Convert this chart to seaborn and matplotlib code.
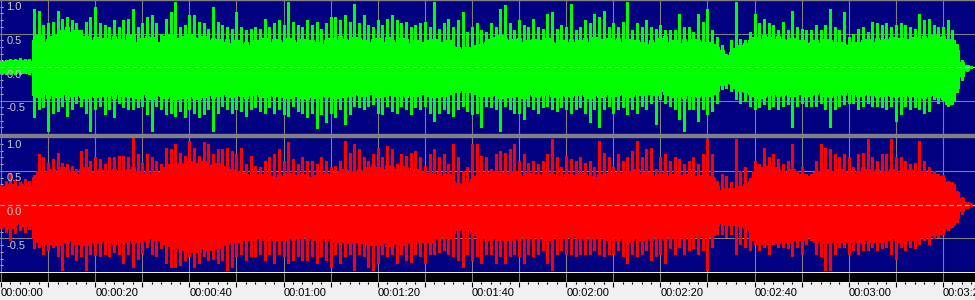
import matplotlib
matplotlib.use("Agg")
import matplotlib.pyplot as plt
import matplotlib.transforms as mtrans
from matplotlib.patches import Rectangle
import seaborn as sns

# ---------------- data ----------------
# per-second peak amplitude, left (green) channel
G_hi = [0.09, 0.11, 0.12, 0.12, 0.13, 0.12, 0.12, 0.87, 0.84, 0.62,
        0.65, 0.67, 0.83, 0.72, 0.75, 0.70, 0.65, 0.55, 0.67, 0.75,
        0.90, 0.65, 0.62, 0.60, 0.70, 0.60, 0.70, 0.72, 0.87, 0.60,
        0.65, 0.75, 0.77, 0.65, 0.50, 0.72, 0.82, 0.97, 0.60, 0.62,
        0.77, 0.77, 0.67, 0.65, 0.57, 0.89, 0.67, 0.62, 0.60, 0.57,
        0.82, 0.60, 0.55, 0.57, 0.60, 0.57, 0.72, 0.60, 0.65, 0.70,
        0.62, 0.97, 0.67, 0.62, 0.60, 0.70, 0.62, 0.67, 0.57, 0.65,
        0.75, 0.75, 0.70, 0.77, 0.67, 0.94, 0.65, 0.77, 0.62, 0.60,
        0.70, 0.62, 0.72, 0.77, 0.70, 0.65, 0.67, 0.60, 0.62, 0.65,
        0.67, 0.60, 0.97, 0.57, 0.65, 0.72, 0.60, 0.70, 0.82, 0.52,
        0.60, 0.65, 0.55, 0.52, 0.65, 0.60, 0.87, 0.92, 0.65, 0.55,
        0.70, 0.62, 0.60, 0.72, 0.60, 0.57, 0.79, 0.82, 0.57, 0.62,
        0.60, 0.94, 0.55, 0.60, 0.70, 0.65, 0.79, 0.75, 0.84, 0.60,
        0.65, 0.60, 0.67, 0.97, 0.55, 0.65, 0.60, 0.70, 0.60, 0.57,
        0.62, 0.55, 0.55, 0.55, 0.79, 0.60, 0.60, 0.52, 0.79, 0.67,
        0.87, 0.55, 0.45, 0.33, 0.20, 0.40, 0.97, 0.42, 0.40, 0.52,
        0.79, 0.65, 0.72, 0.65, 0.62, 0.55, 0.67, 0.55, 0.84, 0.60,
        0.57, 0.55, 0.55, 0.62, 0.55, 0.62, 0.87, 0.60, 0.55, 0.82,
        0.45, 0.50, 0.57, 0.60, 0.52, 0.67, 0.65, 0.62, 0.65, 0.60,
        0.62, 0.65, 0.62, 0.60, 0.57, 0.79, 0.70, 0.72, 0.62, 0.60,
        0.60, 0.70, 0.55, 0.35, 0.11, 0.03, 0.02]
G_lo = [-0.09, -0.10, -0.11, -0.10, -0.10, -0.09, -0.10, -0.75, -0.63, -0.60,
        -0.95, -0.68, -0.65, -0.58, -0.73, -0.63, -0.53, -0.58, -0.68, -0.96,
        -0.63, -0.58, -0.70, -0.63, -0.75, -0.53, -0.60, -0.63, -0.63, -0.60,
        -0.58, -0.70, -0.96, -0.58, -0.63, -0.70, -0.68, -0.73, -0.65, -0.75,
        -0.63, -0.68, -0.75, -0.70, -0.63, -0.95, -0.68, -0.58, -0.63, -0.68,
        -0.63, -0.65, -0.73, -0.63, -0.60, -0.65, -0.68, -0.60, -0.68, -0.63,
        -0.70, -0.73, -0.58, -0.65, -0.68, -0.75, -0.68, -0.91, -0.70, -0.82,
        -0.68, -0.75, -0.63, -0.85, -0.70, -0.58, -0.60, -0.63, -0.58, -0.55,
        -0.68, -0.70, -0.58, -0.65, -0.68, -0.58, -0.63, -0.70, -0.60, -0.63,
        -0.58, -0.68, -0.80, -0.68, -0.63, -0.68, -0.73, -0.63, -0.58, -0.65,
        -0.70, -0.68, -0.90, -0.58, -0.60, -0.63, -0.95, -0.58, -0.63, -0.68,
        -0.68, -0.77, -0.58, -0.63, -0.68, -0.60, -0.58, -0.63, -0.65, -0.60,
        -0.63, -0.68, -0.63, -0.60, -0.68, -0.82, -0.63, -0.90, -0.63, -0.58,
        -0.68, -0.63, -0.60, -0.70, -0.63, -0.68, -0.58, -0.63, -0.53, -0.85,
        -0.48, -0.53, -0.58, -0.63, -0.77, -0.95, -0.63, -0.63, -0.80, -0.63,
        -0.70, -0.65, -0.53, -0.33, -0.31, -0.36, -0.48, -0.53, -0.51, -0.58,
        -0.63, -0.60, -0.55, -0.63, -0.58, -0.63, -0.58, -0.55, -0.90, -0.58,
        -0.53, -0.58, -0.58, -0.58, -0.53, -0.63, -0.90, -0.63, -0.58, -0.55,
        -0.53, -0.53, -0.63, -0.58, -0.53, -0.58, -0.58, -0.60, -0.63, -0.58,
        -0.80, -0.70, -0.58, -0.63, -0.60, -0.63, -0.68, -0.65, -0.48, -0.53,
        -0.51, -0.58, -0.55, -0.38, -0.19, -0.06, -0.02]

# per-second peak amplitude, right (red) channel
R_hi = [0.28, 0.35, 0.46, 0.36, 0.33, 0.38, 0.35, 0.43, 0.75, 0.70,
        0.62, 0.67, 0.77, 0.62, 0.60, 0.57, 0.52, 0.79, 0.82, 0.65,
        0.70, 0.67, 0.60, 0.70, 0.70, 0.72, 0.72, 0.70, 0.98, 0.75,
        0.62, 0.75, 0.70, 0.65, 0.60, 0.84, 0.82, 0.89, 0.77, 0.72,
        0.94, 0.84, 0.72, 0.92, 0.89, 0.75, 0.82, 0.82, 0.84, 0.79,
        0.75, 0.84, 0.60, 0.72, 0.57, 0.55, 0.65, 0.70, 0.75, 0.82,
        0.65, 0.92, 0.67, 0.60, 0.70, 0.65, 0.65, 0.60, 0.70, 0.65,
        0.55, 0.57, 0.65, 0.94, 0.77, 0.89, 0.82, 0.70, 0.65, 0.75,
        0.84, 0.70, 0.87, 0.82, 0.60, 0.75, 0.72, 0.77, 0.79, 0.70,
        0.57, 0.75, 0.82, 0.70, 0.75, 0.60, 0.89, 0.70, 0.50, 0.55,
        0.89, 0.89, 0.72, 0.70, 0.52, 0.75, 0.79, 0.77, 0.82, 0.89,
        0.65, 0.75, 0.62, 0.65, 0.60, 0.65, 0.75, 0.97, 0.70, 0.55,
        0.72, 0.67, 0.65, 0.70, 0.62, 0.65, 0.55, 0.94, 0.77, 0.70,
        0.55, 0.75, 0.65, 0.70, 0.79, 0.94, 0.70, 0.82, 0.84, 0.52,
        0.70, 0.75, 0.65, 0.70, 0.67, 0.60, 0.65, 0.70, 0.60, 0.75,
        0.97, 0.75, 0.35, 0.45, 0.42, 0.33, 0.97, 0.50, 0.55, 0.40,
        0.65, 0.60, 0.84, 0.70, 0.75, 0.67, 0.60, 0.65, 0.89, 0.50,
        0.55, 0.45, 0.45, 0.65, 0.89, 0.84, 0.82, 0.75, 0.70, 0.75,
        0.70, 0.55, 0.75, 0.77, 0.97, 0.70, 0.65, 0.75, 0.75, 0.97,
        0.70, 0.70, 0.65, 0.60, 0.62, 0.94, 0.65, 0.55, 0.50, 0.45,
        0.43, 0.35, 0.33, 0.20, 0.11, 0.04, 0.02]
R_lo = [-0.35, -0.40, -0.53, -0.42, -0.38, -0.40, -0.36, -0.65, -0.63, -0.73,
        -0.68, -0.63, -0.77, -0.97, -0.77, -0.73, -0.82, -0.77, -0.97, -0.73,
        -0.75, -0.77, -0.73, -0.77, -0.70, -0.73, -0.87, -0.73, -0.92, -0.80,
        -0.73, -0.63, -0.73, -0.77, -0.65, -0.87, -0.92, -0.92, -0.90, -0.82,
        -0.77, -0.92, -0.87, -0.77, -0.82, -0.80, -0.87, -0.82, -0.97, -0.92,
        -0.77, -0.73, -0.82, -0.77, -0.77, -0.73, -0.82, -0.73, -0.87, -0.73,
        -0.77, -0.87, -0.82, -0.77, -0.82, -0.82, -0.77, -0.87, -0.77, -0.82,
        -0.92, -0.73, -0.87, -0.77, -0.73, -0.97, -0.73, -0.77, -0.92, -0.97,
        -0.87, -0.73, -0.77, -0.73, -0.87, -0.73, -0.82, -0.85, -0.73, -0.77,
        -0.87, -0.73, -0.73, -0.70, -0.68, -0.73, -0.77, -0.82, -0.92, -0.73,
        -0.82, -0.77, -0.87, -0.73, -0.73, -0.87, -0.77, -0.87, -0.77, -0.73,
        -0.77, -0.87, -0.73, -0.77, -0.73, -0.68, -0.87, -0.97, -0.73, -0.68,
        -0.73, -0.73, -0.77, -0.73, -0.73, -0.73, -0.68, -0.73, -0.77, -0.73,
        -0.73, -0.68, -0.77, -0.87, -0.73, -0.77, -0.73, -0.68, -0.82, -0.77,
        -0.73, -0.87, -0.65, -0.73, -0.63, -0.73, -0.68, -0.65, -0.73, -0.68,
        -0.97, -0.63, -0.43, -0.43, -0.48, -0.43, -0.73, -0.58, -0.63, -0.68,
        -0.58, -0.68, -0.63, -0.73, -0.58, -0.63, -0.63, -0.65, -0.77, -0.63,
        -0.73, -0.58, -0.53, -0.73, -0.77, -0.97, -0.97, -0.73, -0.63, -0.63,
        -0.73, -0.68, -0.73, -0.68, -0.68, -0.63, -0.68, -0.65, -0.63, -0.73,
        -0.80, -0.63, -0.68, -0.63, -0.65, -0.58, -0.53, -0.58, -0.50, -0.48,
        -0.43, -0.38, -0.33, -0.26, -0.14, -0.05, -0.02]

# dense body of the waveform, per second
G_body_hi = [0.07, 0.09, 0.10, 0.09, 0.10, 0.10, 0.09, 0.40, 0.48, 0.38,
             0.42, 0.47, 0.50, 0.55, 0.60, 0.52, 0.55, 0.44, 0.47, 0.40,
             0.45, 0.38, 0.44, 0.40, 0.47, 0.42, 0.40, 0.48, 0.50, 0.38,
             0.43, 0.46, 0.45, 0.38, 0.35, 0.47, 0.50, 0.44, 0.42, 0.47,
             0.50, 0.45, 0.43, 0.47, 0.40, 0.44, 0.42, 0.38, 0.42, 0.36,
             0.40, 0.35, 0.37, 0.33, 0.40, 0.36, 0.44, 0.38, 0.42, 0.40,
             0.38, 0.44, 0.40, 0.37, 0.42, 0.35, 0.40, 0.37, 0.34, 0.40,
             0.43, 0.40, 0.47, 0.42, 0.40, 0.45, 0.43, 0.40, 0.38, 0.42,
             0.44, 0.38, 0.45, 0.40, 0.38, 0.43, 0.42, 0.36, 0.40, 0.38,
             0.36, 0.40, 0.42, 0.35, 0.38, 0.40, 0.32, 0.30, 0.27, 0.30,
             0.28, 0.33, 0.35, 0.38, 0.42, 0.45, 0.48, 0.44, 0.40, 0.42,
             0.44, 0.38, 0.40, 0.42, 0.37, 0.40, 0.43, 0.38, 0.36, 0.40,
             0.38, 0.42, 0.37, 0.40, 0.43, 0.38, 0.45, 0.42, 0.40, 0.43,
             0.40, 0.44, 0.38, 0.42, 0.36, 0.40, 0.38, 0.35, 0.40, 0.37,
             0.43, 0.47, 0.38, 0.40, 0.36, 0.42, 0.38, 0.42, 0.40, 0.37,
             0.38, 0.35, 0.30, 0.26, 0.18, 0.22, 0.28, 0.33, 0.36, 0.40,
             0.45, 0.42, 0.48, 0.45, 0.42, 0.47, 0.42, 0.40, 0.44, 0.38,
             0.40, 0.36, 0.38, 0.40, 0.36, 0.42, 0.40, 0.37, 0.38, 0.35,
             0.33, 0.37, 0.38, 0.40, 0.42, 0.38, 0.43, 0.40, 0.42, 0.45,
             0.40, 0.44, 0.42, 0.40, 0.45, 0.42, 0.46, 0.44, 0.48, 0.45,
             0.47, 0.42, 0.40, 0.25, 0.08, 0.03, 0.01]
G_body_lo = [-0.07, -0.09, -0.08, -0.09, -0.08, -0.09, -0.08, -0.42, -0.45, -0.40,
             -0.47, -0.42, -0.45, -0.40, -0.48, -0.44, -0.42, -0.45, -0.47, -0.43,
             -0.45, -0.40, -0.44, -0.42, -0.47, -0.40, -0.43, -0.45, -0.42, -0.46,
             -0.40, -0.45, -0.48, -0.42, -0.44, -0.46, -0.43, -0.48, -0.45, -0.47,
             -0.43, -0.46, -0.48, -0.45, -0.42, -0.47, -0.44, -0.40, -0.43, -0.45,
             -0.42, -0.44, -0.46, -0.42, -0.40, -0.43, -0.45, -0.42, -0.44, -0.41,
             -0.45, -0.47, -0.42, -0.44, -0.46, -0.48, -0.45, -0.47, -0.43, -0.45,
             -0.44, -0.47, -0.42, -0.45, -0.43, -0.40, -0.42, -0.44, -0.41, -0.38,
             -0.45, -0.43, -0.42, -0.40, -0.44, -0.42, -0.45, -0.42, -0.43, -0.41,
             -0.40, -0.43, -0.45, -0.42, -0.44, -0.41, -0.38, -0.37, -0.35, -0.38,
             -0.38, -0.40, -0.43, -0.42, -0.44, -0.42, -0.46, -0.42, -0.45, -0.43,
             -0.42, -0.47, -0.41, -0.43, -0.45, -0.42, -0.40, -0.43, -0.45, -0.42,
             -0.43, -0.45, -0.42, -0.40, -0.44, -0.46, -0.42, -0.45, -0.43, -0.41,
             -0.44, -0.42, -0.40, -0.45, -0.43, -0.41, -0.42, -0.40, -0.38, -0.42,
             -0.36, -0.40, -0.42, -0.45, -0.43, -0.47, -0.42, -0.44, -0.45, -0.42,
             -0.43, -0.40, -0.36, -0.27, -0.24, -0.26, -0.32, -0.36, -0.38, -0.40,
             -0.44, -0.46, -0.45, -0.42, -0.40, -0.43, -0.42, -0.40, -0.44, -0.41,
             -0.40, -0.43, -0.42, -0.40, -0.38, -0.43, -0.45, -0.42, -0.40, -0.42,
             -0.38, -0.40, -0.43, -0.42, -0.40, -0.42, -0.45, -0.43, -0.42, -0.44,
             -0.45, -0.43, -0.42, -0.44, -0.43, -0.45, -0.47, -0.44, -0.42, -0.45,
             -0.48, -0.55, -0.50, -0.32, -0.14, -0.05, -0.01]
R_body_hi = [0.22, 0.27, 0.30, 0.26, 0.28, 0.30, 0.27, 0.40, 0.50, 0.47,
             0.50, 0.53, 0.48, 0.55, 0.52, 0.50, 0.45, 0.52, 0.55, 0.48,
             0.50, 0.52, 0.47, 0.50, 0.53, 0.48, 0.50, 0.52, 0.55, 0.50,
             0.47, 0.50, 0.45, 0.48, 0.45, 0.55, 0.60, 0.58, 0.62, 0.60,
             0.65, 0.60, 0.62, 0.65, 0.58, 0.60, 0.62, 0.57, 0.55, 0.52,
             0.50, 0.48, 0.45, 0.42, 0.45, 0.40, 0.45, 0.42, 0.40, 0.45,
             0.42, 0.47, 0.40, 0.43, 0.45, 0.42, 0.40, 0.44, 0.42, 0.47,
             0.45, 0.48, 0.50, 0.52, 0.48, 0.50, 0.53, 0.50, 0.55, 0.58,
             0.55, 0.52, 0.58, 0.55, 0.52, 0.57, 0.55, 0.50, 0.52, 0.48,
             0.50, 0.47, 0.45, 0.48, 0.42, 0.45, 0.35, 0.32, 0.30, 0.33,
             0.38, 0.42, 0.45, 0.48, 0.45, 0.50, 0.48, 0.45, 0.47, 0.50,
             0.45, 0.42, 0.47, 0.43, 0.45, 0.42, 0.47, 0.45, 0.42, 0.40,
             0.45, 0.42, 0.44, 0.47, 0.45, 0.42, 0.40, 0.45, 0.43, 0.47,
             0.45, 0.48, 0.45, 0.50, 0.48, 0.52, 0.45, 0.48, 0.47, 0.42,
             0.45, 0.48, 0.42, 0.45, 0.43, 0.40, 0.45, 0.42, 0.40, 0.44,
             0.42, 0.40, 0.28, 0.22, 0.24, 0.20, 0.25, 0.28, 0.30, 0.35,
             0.50, 0.55, 0.52, 0.57, 0.55, 0.52, 0.50, 0.48, 0.52, 0.45,
             0.45, 0.42, 0.40, 0.48, 0.50, 0.52, 0.48, 0.50, 0.53, 0.50,
             0.48, 0.45, 0.50, 0.55, 0.52, 0.50, 0.52, 0.48, 0.50, 0.52,
             0.50, 0.47, 0.50, 0.52, 0.48, 0.50, 0.48, 0.45, 0.45, 0.42,
             0.40, 0.34, 0.30, 0.18, 0.09, 0.03, 0.01]
R_body_lo = [-0.28, -0.32, -0.35, -0.30, -0.28, -0.32, -0.30, -0.50, -0.55, -0.58,
             -0.55, -0.58, -0.60, -0.55, -0.57, -0.53, -0.58, -0.55, -0.60, -0.55,
             -0.57, -0.55, -0.52, -0.55, -0.58, -0.52, -0.55, -0.53, -0.57, -0.55,
             -0.52, -0.55, -0.50, -0.53, -0.50, -0.58, -0.62, -0.65, -0.63, -0.68,
             -0.70, -0.67, -0.70, -0.65, -0.68, -0.62, -0.65, -0.60, -0.58, -0.55,
             -0.55, -0.52, -0.50, -0.53, -0.50, -0.48, -0.52, -0.50, -0.53, -0.50,
             -0.52, -0.50, -0.53, -0.50, -0.48, -0.52, -0.50, -0.53, -0.50, -0.52,
             -0.50, -0.55, -0.52, -0.55, -0.57, -0.55, -0.53, -0.57, -0.60, -0.58,
             -0.60, -0.57, -0.62, -0.58, -0.57, -0.60, -0.55, -0.57, -0.53, -0.55,
             -0.52, -0.55, -0.50, -0.52, -0.48, -0.50, -0.42, -0.38, -0.35, -0.38,
             -0.42, -0.45, -0.50, -0.52, -0.53, -0.50, -0.52, -0.50, -0.53, -0.50,
             -0.52, -0.48, -0.50, -0.47, -0.50, -0.48, -0.52, -0.50, -0.48, -0.50,
             -0.48, -0.50, -0.47, -0.50, -0.52, -0.48, -0.50, -0.47, -0.50, -0.52,
             -0.50, -0.53, -0.50, -0.55, -0.52, -0.50, -0.53, -0.50, -0.52, -0.48,
             -0.50, -0.52, -0.48, -0.50, -0.47, -0.50, -0.48, -0.45, -0.48, -0.46,
             -0.48, -0.45, -0.32, -0.28, -0.30, -0.27, -0.30, -0.32, -0.35, -0.38,
             -0.52, -0.58, -0.55, -0.58, -0.55, -0.57, -0.53, -0.55, -0.52, -0.50,
             -0.52, -0.48, -0.50, -0.55, -0.53, -0.57, -0.55, -0.52, -0.55, -0.53,
             -0.55, -0.52, -0.55, -0.57, -0.53, -0.55, -0.52, -0.55, -0.53, -0.50,
             -0.52, -0.55, -0.53, -0.50, -0.52, -0.48, -0.50, -0.47, -0.45, -0.43,
             -0.40, -0.35, -0.30, -0.20, -0.10, -0.04, -0.01]

seconds = list(range(0, 207))

grid_seconds = [0, 10, 20, 30, 40, 50, 60, 70, 80, 90, 100, 110, 120, 130,
                140, 150, 160, 170, 180, 190, 200]
label_seconds = [0, 20, 40, 60, 80, 100, 120, 140, 160, 180, 200]
time_labels = ["00:00:00", "00:00:20", "00:00:40", "00:01:00", "00:01:20",
               "00:01:40", "00:02:00", "00:02:20", "00:02:40", "00:03:00",
               "00:03:20"]
minor_seconds = list(range(0, 207, 2))
amp_grid = [-0.5, 0.5]
amp_label_values = [1.0, 0.5, 0.0, -0.5]
amp_labels = ["1.0", "0.5", "0.0", "-0.5"]
amp_minor = [-0.9, -0.8, -0.7, -0.6, -0.5, -0.4, -0.3, -0.2, -0.1, 0.0,
             0.1, 0.2, 0.3, 0.4, 0.5, 0.6, 0.7, 0.8, 0.9]

# ---------------- style ----------------
sns.set_theme(style="white")
plt.rcParams["font.family"] = ["Liberation Sans", "DejaVu Sans"]

W, H = 975, 300
XMIN, XMAX = -0.21, 206.8
NAVY = "#000080"
GRID = "#808080"

fig = plt.figure(figsize=(W / 100, H / 100), dpi=100, facecolor="#f0f0f0")


def px_axes(top, bottom):
    return fig.add_axes([0, 1 - bottom / H, 1, (bottom - top) / H])


# gray separator between the two channels
fig.patches.append(Rectangle((0, 1 - 137 / H), 1, 3 / H,
                             transform=fig.transFigure, color=GRID, zorder=0))

axG = px_axes(0, 134)
axR = px_axes(137, 272)
axT = px_axes(273, 282)


def draw_channel(ax, hi, lo, bhi, blo, color, top_line=False):
    ax.set_facecolor(NAVY)
    ax.set_xlim(XMIN, XMAX)
    ax.set_ylim(-1, 1)
    for g in grid_seconds:
        ax.axvline(g, color=GRID, lw=0.8, zorder=1)
    for a in amp_grid:
        ax.axhline(a, color=GRID, lw=0.8, zorder=1)
    ax.fill_between(seconds, blo, bhi, step="mid", color=color, lw=0,
                    zorder=2, antialiased=False)
    sns.lineplot(x=seconds, y=bhi, ax=ax, color=color, lw=0.8,
                 drawstyle="steps-mid", zorder=2)
    sns.lineplot(x=seconds, y=blo, ax=ax, color=color, lw=0.8,
                 drawstyle="steps-mid", zorder=2)
    ax.vlines(seconds, lo, hi, color=color, lw=1.0, zorder=2, antialiased=False)
    ax.axhline(0.0, color="#d8d8d8", lw=0.8, ls=(0, (4, 3)), zorder=4)
    ax.set_xticks([])
    ax.set_yticks(amp_minor)
    ax.tick_params(axis="y", which="both", direction="in", length=2.5,
                   width=0.8, color="#c8c8c8", labelleft=False, left=True)
    for s in ax.spines.values():
        s.set_visible(False)
    if top_line:
        ax.spines["top"].set_visible(True)
        ax.spines["top"].set_color(GRID)
        ax.spines["top"].set_linewidth(1.0)
    trans = mtrans.blended_transform_factory(ax.transAxes, ax.transData)
    trans = mtrans.offset_copy(trans, fig=fig, x=0, y=-2.5, units="dots")
    for v, lab in zip(amp_label_values, amp_labels):
        ax.text(6.5 / W, v, lab, transform=trans, ha="left", va="top",
                fontsize=8, color="#c8c8c8", zorder=5)
    ax.set_xlabel("")
    ax.set_ylabel("")


draw_channel(axG, G_hi, G_lo, G_body_hi, G_body_lo, "#00ff00", top_line=True)
draw_channel(axR, R_hi, R_lo, R_body_hi, R_body_lo, "#ff0000")

# time ruler
axT.set_facecolor("black")
axT.set_xlim(XMIN, XMAX)
axT.set_ylim(0, 1)
axT.set_yticks([])
axT.set_xticks(grid_seconds)
axT.set_xticklabels([time_labels[label_seconds.index(g)] if g in label_seconds else ""
                     for g in grid_seconds])
axT.set_xticks(minor_seconds, minor=True)
axT.tick_params(axis="x", which="major", direction="out", length=3.8, width=0.8,
                color="black", pad=0.8, labelsize=8, labelcolor="black", bottom=True)
axT.tick_params(axis="x", which="minor", direction="out", length=1.2, width=0.8,
                color="black", bottom=True)
for lab in axT.get_xticklabels():
    lab.set_ha("left")
axT.grid(axis="x", which="major", color=GRID, lw=0.8)
axT.grid(axis="x", which="minor", visible=False)
for s in axT.spines.values():
    s.set_visible(False)

fig.savefig("out.png", dpi=100, facecolor=fig.get_facecolor())
